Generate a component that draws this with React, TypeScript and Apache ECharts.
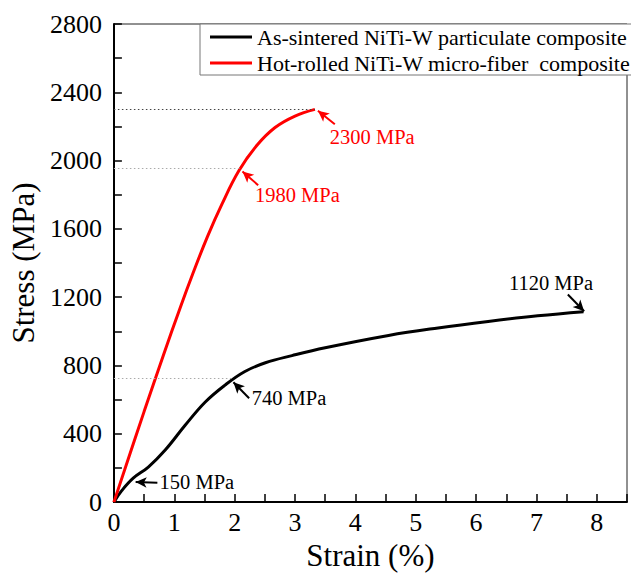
import React, { useEffect, useRef } from "react";
import * as echarts from "echarts";

const FONT = "'Liberation Serif', 'Times New Roman', serif";

const seriesNames = [
  "As-sintered NiTi-W particulate composite",
  "Hot-rolled NiTi-W micro-fiber  composite",
];

// As-sintered (black) [strain %, stress MPa]
const sinteredStrain = [0, 0.13, 0.32, 0.57, 0.85, 1.18, 1.51, 1.84, 2.17, 2.51, 2.95, 3.5, 4.55, 5.37, 6.2, 7.02, 7.78];
const sinteredStress = [0, 67, 140, 205, 305, 450, 585, 685, 765, 816, 858, 904, 976, 1020, 1058, 1091, 1115];

// Hot-rolled (red)
const rolledStrain = [0, 0.5, 0.82, 1.1, 1.31, 1.55, 1.79, 2.07, 2.37, 2.67, 3.0, 3.33];
const rolledStress = [0, 530, 860, 1140, 1340, 1555, 1745, 1940, 2090, 2194, 2261, 2300];

// annotation texts and their positions [strain, stress]
const blackNotes = [
  { text: "150 MPa", at: [1.375, 117] },
  { text: "740 MPa", at: [2.9, 608] },
  { text: "1120 MPa", at: [7.24, 1285] },
];
const redNotes = [
  { text: "1980 MPa", at: [3.04, 1800] },
  { text: "2300 MPa", at: [4.28, 2138] },
];

// arrows [tail, head]
const blackArrows = [
  [[0.72, 113], [0.36, 117]],
  [[2.24, 608], [1.98, 702]],
  [[7.52, 1216], [7.79, 1118]],
];
const redArrows = [
  [[2.39, 1856], [2.13, 1936]],
  [[3.66, 2213], [3.38, 2292]],
];

// dotted reference lines [endStrain, stress, color]
const blackGuides = [[1.98, 727, "#aaa"]];
const redGuides = [
  [2.12, 1955, "#aaa"],
  [3.33, 2300, "#444"],
];

function zip(xs: number[], ys: number[]) {
  return xs.map((x, i) => [x, ys[i]]);
}

function markLines(arrows: any[], guides: any[], color: string) {
  const data: any[] = [];
  guides.forEach((g) => {
    data.push([
      { coord: [0, g[1]], symbol: "none", lineStyle: { color: g[2], type: [1.5, 2.5], width: 1.2 } },
      { coord: [g[0], g[1]], symbol: "none" },
    ]);
  });
  arrows.forEach((a) => {
    data.push([
      { coord: a[0], symbol: "none", lineStyle: { color, type: "solid", width: 2 } },
      { coord: a[1], symbol: "arrow", symbolSize: [8, 11] },
    ]);
  });
  return {
    silent: true,
    animation: false,
    symbol: ["none", "arrow"],
    label: { show: false },
    emphasis: { disabled: true },
    data,
  };
}

function markPoints(notes: any[], color: string) {
  return {
    silent: true,
    animation: false,
    symbol: "rect",
    symbolSize: 1,
    itemStyle: { color: "rgba(0,0,0,0)" },
    label: {
      show: true,
      position: "inside",
      color,
      fontSize: 20.5,
      fontFamily: FONT,
      formatter: (p: any) => p.name,
    },
    data: notes.map((n) => ({ name: n.text, coord: n.at })),
  };
}

export default function App() {
  const ref = useRef<HTMLDivElement>(null);
  useEffect(() => {
    if (!ref.current) return;
    const chart = echarts.init(ref.current, null, { renderer: "svg" });
    chart.setOption({
      animation: false,
      backgroundColor: "#fff",
      grid: {
        left: 113,
        right: 4,
        top: 24,
        bottom: 67.5,
        show: true,
        borderColor: "#222",
        borderWidth: 1,
      },
      legend: {
        left: 200,
        top: 24,
        orient: "vertical",
        backgroundColor: "#fff",
        borderColor: "#777",
        borderWidth: 1,
        borderRadius: 0,
        padding: [2, 3, 1, 10],
        itemGap: 4,
        itemWidth: 42,
        itemHeight: 3,
        icon: "rect",
        textStyle: { fontSize: 22, fontFamily: FONT, color: "#000" },
        data: seriesNames,
      },
      xAxis: {
        type: "value",
        min: 0,
        max: 8.5,
        interval: 0.5,
        name: "Strain (%)",
        nameLocation: "middle",
        nameGap: 30,
        nameTextStyle: { fontSize: 31, fontFamily: FONT, color: "#000" },
        axisLine: { lineStyle: { color: "#000", width: 2 } },
        axisTick: { inside: true, length: 8, lineStyle: { color: "#000", width: 1.5 } },
        axisLabel: {
          fontSize: 26,
          fontFamily: FONT,
          color: "#000",
          margin: 7,
          formatter: (v: number) => (Math.abs(v - Math.round(v)) < 1e-6 ? String(Math.round(v)) : ""),
        },
        splitLine: { show: false },
      },
      yAxis: {
        type: "value",
        min: 0,
        max: 2800,
        interval: 200,
        name: "Stress (MPa)",
        nameLocation: "middle",
        nameGap: 68,
        nameTextStyle: { fontSize: 31, fontFamily: FONT, color: "#000" },
        axisLine: { show: true, lineStyle: { color: "#000", width: 2 } },
        axisTick: { show: true, inside: true, length: 8, lineStyle: { color: "#000", width: 1.5 } },
        axisLabel: {
          fontSize: 26,
          fontFamily: FONT,
          color: "#000",
          margin: 12,
          formatter: (v: number) => (v % 400 === 0 ? String(v) : ""),
        },
        splitLine: { show: false },
      },
      series: [
        {
          name: seriesNames[0],
          type: "line",
          data: zip(sinteredStrain, sinteredStress),
          showSymbol: false,
          smooth: 0.4,
          lineStyle: { color: "#000", width: 3 },
          itemStyle: { color: "#000" },
          z: 3,
          markLine: markLines(blackArrows, blackGuides, "#000"),
          markPoint: markPoints(blackNotes, "#000"),
        },
        {
          name: seriesNames[1],
          type: "line",
          data: zip(rolledStrain, rolledStress),
          showSymbol: false,
          smooth: 0.4,
          lineStyle: { color: "#ff0000", width: 3 },
          itemStyle: { color: "#ff0000" },
          z: 3,
          markLine: markLines(redArrows, redGuides, "#ff0000"),
          markPoint: markPoints(redNotes, "#ff0000"),
        },
      ],
    });
    return () => chart.dispose();
  }, []);
  return (
    <div
      ref={ref}
      style={{ position: "absolute", left: 0, top: 0, width: 631, height: 576 }}
    />
  );
}
